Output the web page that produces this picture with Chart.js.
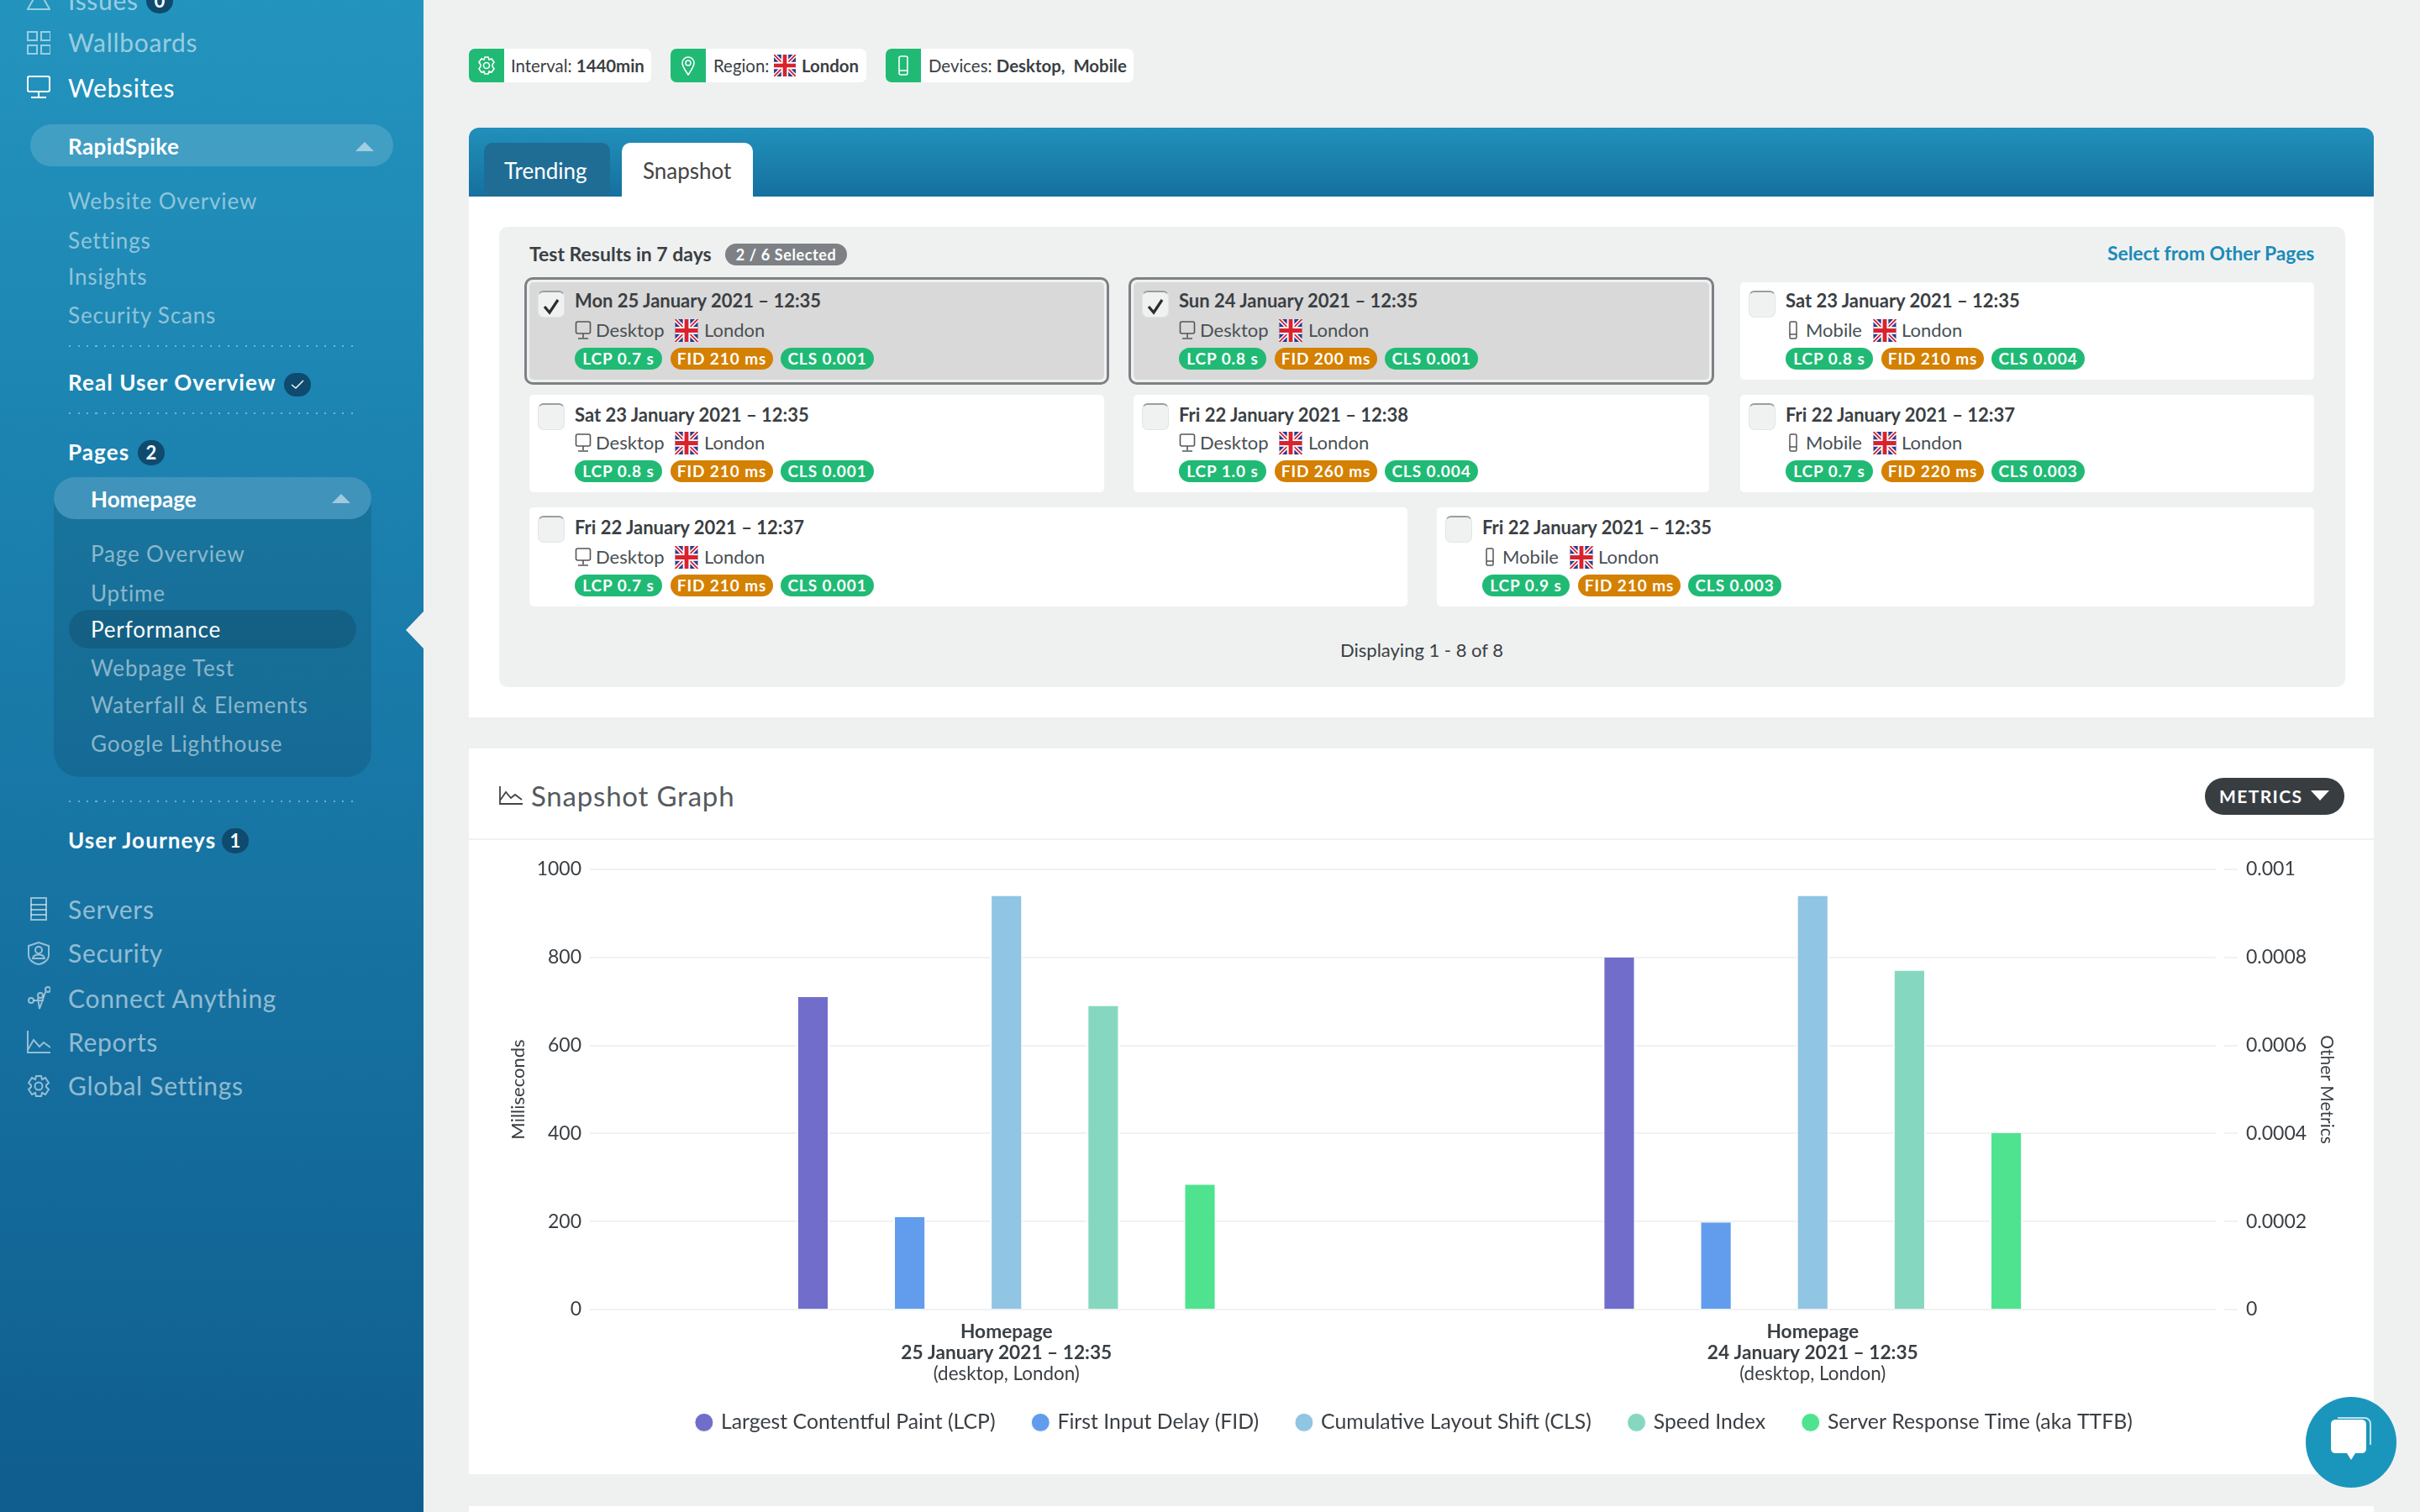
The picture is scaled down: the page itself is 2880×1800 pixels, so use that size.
<!DOCTYPE html>
<html>
<head>
<meta charset="utf-8">
<title>Snapshot Graph</title>
<script src="https://cdn.jsdelivr.net/npm/chart.js@4"></script>
<style>
html, body { margin: 0; padding: 0; width: 2880px; height: 1800px; overflow: hidden; background: #eff1f1; font-family: Lato, "Noto Sans", sans-serif; color: #3a3f44; }
.abs, .t { position: absolute; white-space: nowrap; }
.t { transform: translateY(-50%); line-height: 1; }
#side { position: absolute; left: 0; top: 0; width: 504px; height: 1800px; background: linear-gradient(180deg, #2394be 0%, #1a7dab 40%, #136a9a 78%, #0f5d8e 100%); overflow: hidden; }
.nav { color: rgba(255,255,255,.55); font-size: 30px; letter-spacing: .7px; }
.nav.on { color: #fff; }
.sub { color: rgba(255,255,255,.5); font-size: 26px; letter-spacing: .85px; }
.hd { color: #fff; font-size: 26px; font-weight: 700; letter-spacing: 1.1px; }
.pill { position: absolute; background: rgba(255,255,255,.15); border-radius: 25px; }
.badge { position: absolute; width: 32px; height: 30px; border-radius: 15px; background: #0e4b6e; color: #fff; font-size: 22px; font-weight: 700; text-align: center; line-height: 30px; }
.dots { position: absolute; left: 82px; width: 340px; height: 2px; background: repeating-linear-gradient(90deg, rgba(255,255,255,.4) 0 2px, transparent 2px 10.5px); }
.up { position: absolute; width: 0; height: 0; border-left: 11px solid transparent; border-right: 11px solid transparent; border-bottom: 11px solid rgba(255,255,255,.5); }
.nic { position: absolute; left: 32px; width: 28px; height: 28px; fill: none; stroke-width: 2; }
.tag { position: absolute; top: 58px; height: 40px; background: #fff; border-radius: 7px; overflow: hidden; font-size: 20.4px; }
.tag i { position: absolute; left: 0; top: 0; width: 42px; height: 40px; background: #20ba75; }
.tag svg.ic { position: absolute; left: 9px; top: 8px; width: 24px; height: 24px; fill: none; stroke: #fff; stroke-width: 1.6; }
.card { position: absolute; background: #fff; border-radius: 5px; }
.card.sel { background: #d9d9d9; }
.card.sel:before { content: ""; position: absolute; left: -6px; top: -6px; right: -6px; bottom: -6px; border: 3px solid #7d8185; border-radius: 10px; box-sizing: border-box; }
.box { position: absolute; left: 10px; top: 10px; width: 32px; height: 32px; box-sizing: border-box; background: #f0f2f1; border: 1px solid #e3e5e5; border-top: 2px solid #9a9da0; border-radius: 7px; }
.lbl { position: absolute; height: 26px; line-height: 26px; border-radius: 13px; color: #fff; font-size: 19px; font-weight: 700; text-align: center; letter-spacing: .9px; }
.ttl { font-size: 22px; font-weight: 700; color: #3a3f44; }
.det { font-size: 22px; color: #4a4f54; }
</style>
</head>
<body>

<svg width="0" height="0" style="position:absolute">
  <symbol id="uk" viewBox="0 0 28 28">
    <rect width="28" height="28" fill="#2a3a8f"/>
    <path d="M0 0L28 28M28 0L0 28" stroke="#fff" stroke-width="5"/>
    <path d="M0 0L28 28M28 0L0 28" stroke="#d8232f" stroke-width="2"/>
    <path d="M14 0V28M0 14H28" stroke="#fff" stroke-width="9"/>
    <path d="M14 0V28M0 14H28" stroke="#d8232f" stroke-width="5"/>
  </symbol>
  <symbol id="desk" viewBox="0 0 20 24">
    <rect x="1.5" y="2" width="17" height="14" rx="2" fill="none" stroke="currentColor" stroke-width="1.6"/>
    <path d="M10 16V21M4 22H16" stroke="currentColor" stroke-width="1.6" fill="none"/>
  </symbol>
  <symbol id="mob" viewBox="0 0 14 24">
    <rect x="3" y="2" width="8" height="20" rx="1.5" fill="none" stroke="currentColor" stroke-width="1.5"/>
    <path d="M3 17H11" stroke="currentColor" stroke-width="1.5"/>
  </symbol>
</svg>

<div id="side">
  <svg class="nic" style="top:-16px" viewBox="0 0 28 28" stroke="rgba(255,255,255,.55)"><path d="M14 4L27 27H1Z"/></svg>
  <span class="t nav" style="left:81px;top:0">Issues</span>
  <div class="badge" style="left:174px;top:-14px">0</div>
  <svg class="nic" style="top:37px" viewBox="0 0 28 28" stroke="rgba(255,255,255,.55)"><rect x="1" y="1" width="11" height="10"/><rect x="17" y="1" width="11" height="10"/><rect x="1" y="17" width="11" height="10"/><rect x="17" y="17" width="11" height="10"/></svg>
  <span class="t nav" style="left:81px;top:50px">Wallboards</span>
  <svg class="nic" style="top:90px" viewBox="0 0 28 28" stroke="#fff"><rect x="1" y="1" width="26" height="18" rx="2"/><path d="M14 19V26M5 26H23"/></svg>
  <span class="t nav on" style="left:81px;top:104px">Websites</span>

  <div class="pill" style="left:36px;top:148px;width:432px;height:50px"></div>
  <span class="t hd" style="left:81px;top:174px;letter-spacing:.4px">RapidSpike</span>
  <div class="up" style="left:423px;top:169px"></div>

  <span class="t sub" style="left:81px;top:239px">Website Overview</span>
  <span class="t sub" style="left:81px;top:286px">Settings</span>
  <span class="t sub" style="left:81px;top:329px">Insights</span>
  <span class="t sub" style="left:81px;top:375px">Security Scans</span>
  <div class="dots" style="top:411px"></div>
  <span class="t hd" style="left:81px;top:455px">Real User Overview</span>
  <div class="badge" style="left:338px;top:444px;height:28px"><svg width="16" height="12" viewBox="0 0 16 12" style="margin-top:8px;display:block;margin-left:8px"><path d="M1 6L6 10L15 1" fill="none" stroke="#fff" stroke-width="1.4"/></svg></div>
  <div class="dots" style="top:491px"></div>
  <span class="t hd" style="left:81px;top:538px">Pages</span>
  <div class="badge" style="left:164px;top:524px">2</div>

  <div class="abs" style="left:64px;top:590px;width:378px;height:335px;background:rgba(0,0,0,.1);border-radius:0 0 30px 30px"></div>
  <div class="pill" style="left:64px;top:568px;width:378px;height:50px;background:#4093ba"></div>
  <span class="t hd" style="left:108px;top:594px;letter-spacing:0">Homepage</span>
  <div class="up" style="left:395px;top:588px"></div>
  <span class="t sub" style="left:108px;top:659px">Page Overview</span>
  <span class="t sub" style="left:108px;top:706px">Uptime</span>
  <div class="abs" style="left:82px;top:726px;width:342px;height:46px;border-radius:23px;background:rgba(0,0,0,.13)"></div>
  <span class="t sub" style="left:108px;top:749px;color:#fff">Performance</span>
  <span class="t sub" style="left:108px;top:795px">Webpage Test</span>
  <span class="t sub" style="left:108px;top:839px">Waterfall &amp; Elements</span>
  <span class="t sub" style="left:108px;top:885px">Google Lighthouse</span>
  <div class="dots" style="top:953px"></div>
  <span class="t hd" style="left:81px;top:1000px">User Journeys</span>
  <div class="badge" style="left:264px;top:986px">1</div>

  <svg class="nic" style="top:1068px" viewBox="0 0 28 28" stroke="rgba(255,255,255,.55)"><rect x="5" y="1" width="18" height="26"/><path d="M5 9H23M5 15H23M5 21H23"/></svg>
  <span class="t nav" style="left:81px;top:1082px">Servers</span>
  <svg class="nic" style="top:1121px" viewBox="0 0 28 28" stroke="rgba(255,255,255,.55)"><path d="M2 5L14 1L26 5V16C26 22 20 26 14 27C8 26 2 22 2 16Z"/><circle cx="14" cy="10" r="4"/><path d="M7 20C8 14 20 14 21 20Z"/></svg>
  <span class="t nav" style="left:81px;top:1134px">Security</span>
  <svg class="nic" style="top:1174px" viewBox="0 0 28 28" stroke="rgba(255,255,255,.55)"><circle cx="5" cy="17" r="3"/><circle cx="16" cy="11" r="3"/><circle cx="25" cy="4" r="3"/><path d="M8 17L20 17M22 7L15 27L13 14"/></svg>
  <span class="t nav" style="left:81px;top:1188px">Connect Anything</span>
  <svg class="nic" style="top:1226px" viewBox="0 0 28 28" stroke="rgba(255,255,255,.55)"><path d="M1 1V27H28M1 24L8 12L15 20L20 15L28 21"/></svg>
  <span class="t nav" style="left:81px;top:1240px">Reports</span>
  <svg class="nic" style="top:1279px" viewBox="0 0 28 28" stroke="rgba(255,255,255,.55)"><circle cx="14" cy="14" r="4.5"/><path d="M11 2H17L18 6L22 4L26 10L23 13V15L26 18L22 24L18 22L17 26H11L10 22L6 24L2 18L5 15V13L2 10L6 4L10 6Z"/></svg>
  <span class="t nav" style="left:81px;top:1292px">Global Settings</span>
</div>
<div class="abs" style="left:483px;top:728px;width:0;height:0;border-top:22px solid transparent;border-bottom:22px solid transparent;border-right:21px solid #eff1f1"></div>

<div class="tag" style="left:558px;width:217px"><i></i><svg class="ic" viewBox="0 0 24 24"><circle cx="12" cy="12" r="3.5"/><path d="M10 2H14L15 5L18 4L21 8L19 11V13L21 16L18 20L15 19L14 22H10L9 19L6 20L3 16L5 13V11L3 8L6 4L9 5Z"/></svg>
  <span class="t" style="left:50px;top:20px">Interval: <b>1440min</b></span></div>
<div class="tag" style="left:798px;width:233px"><i></i><svg class="ic" viewBox="0 0 24 24"><path d="M12 23C8 17 5 13 5 9A7 7 0 0 1 19 9C19 13 16 17 12 23Z"/><circle cx="12" cy="9" r="3"/></svg>
  <span class="t" style="left:51px;top:20px">Region:</span><svg class="abs" style="left:123px;top:7px" width="26" height="26"><use href="#uk"/></svg><span class="t" style="left:156px;top:20px"><b>London</b></span></div>
<div class="tag" style="left:1054px;width:295px"><i></i><svg class="ic" viewBox="0 0 24 24"><rect x="7" y="1" width="10" height="22" rx="2"/><path d="M7 18H17"/></svg>
  <span class="t" style="left:51px;top:20px">Devices: <b>Desktop,&nbsp;&nbsp;Mobile</b></span></div>

<div class="abs" style="left:558px;top:152px;width:2267px;height:702px;background:#fff;border-radius:12px 12px 0 0">
  <div class="abs" style="left:0;top:0;width:2267px;height:82px;background:linear-gradient(180deg,#2190ba,#15709f);border-radius:12px 12px 0 0"></div>
  <div class="abs" style="left:18px;top:18px;width:150px;height:64px;background:#1f6d95;border-radius:10px 10px 0 0"></div>
  <span class="t" style="left:42px;top:51px;font-size:26px;color:#fff">Trending</span>
  <div class="abs" style="left:182px;top:18px;width:156px;height:64px;background:#fff;border-radius:10px 10px 0 0"></div>
  <span class="t" style="left:207px;top:51px;font-size:26px;color:#444">Snapshot</span>
</div>
<div class="abs" style="left:594px;top:270px;width:2197px;height:548px;background:#eff1f1;border-radius:10px"></div>
<span class="t" style="left:630px;top:302px;font-size:23px;font-weight:700">Test Results in 7 days</span>
<div class="abs" style="left:863px;top:290px;width:145px;height:26px;line-height:26px;border-radius:13px;background:#7d8185;color:#fff;font-size:18px;font-weight:700;text-align:center;letter-spacing:.6px">2 / 6 Selected</div>
<span class="t" style="left:2508px;top:301px;font-size:22.8px;font-weight:700;color:#1a8bb8">Select from Other Pages</span>
<div id="cards"></div>
<span class="t" style="left:1692px;top:774px;font-size:22px;transform:translate(-50%,-50%)">Displaying 1 - 8 of 8</span>

<div class="abs" style="left:558px;top:891px;width:2267px;height:864px;background:#fff"></div>
<div class="abs" style="left:558px;top:998px;width:2267px;height:2px;background:#eff1f1"></div>
<svg class="abs" style="left:594px;top:936px" width="28" height="22" viewBox="0 0 28 22" fill="none" stroke="#444" stroke-width="1.8"><path d="M1 0V21H28M1 17L8 7L14 14L19 10L27 16"/></svg>
<span class="t" style="left:632px;top:947px;font-size:33px;color:#555a5f;letter-spacing:.8px">Snapshot Graph</span>
<div class="abs" style="left:2624px;top:926px;width:166px;height:44px;border-radius:22px;background:#383d42"></div>
<span class="t" style="left:2641px;top:947px;font-size:21px;font-weight:700;color:#fff;letter-spacing:1.4px">METRICS</span>
<div class="abs" style="left:2750px;top:941px;width:0;height:0;border-left:11px solid transparent;border-right:11px solid transparent;border-top:12px solid #fff"></div>

<div class="abs" style="left:560px;top:1001px;width:2248px;height:740px">
  <canvas id="snapshotChart" width="2248" height="740"></canvas>
</div>

<div class="abs" style="left:558px;top:1793px;width:2267px;height:7px;background:#fff"></div>
<div class="abs" style="left:2744px;top:1663px;width:108px;height:108px;border-radius:54px;background:#1a96bd"></div>
<svg class="abs" style="left:2768px;top:1686px" width="60" height="60" viewBox="0 0 60 60"><path d="M12 4H42C46 4 48 6 48 10V38C48 42 46 44 42 44H35L30 52L25 44H12C8 44 6 42 6 38V10C6 6 8 4 12 4Z" fill="#fff"/><path d="M14 2H46C50 2 53 5 53 9V34" fill="none" stroke="#bfe3ee" stroke-width="2"/></svg>

<script>
// chart values
const categories = [
    ['Homepage', '25 January 2021 \u2013 12:35'],
    ['Homepage', '24 January 2021 \u2013 12:35']
];
const subLabels = ['(desktop, London)', '(desktop, London)'];
const lcpValues = [710, 800];
const fidValues = [210, 198];
const clsValues = [0.00094, 0.00094];
const speedIndexValues = [690, 770];
const ttfbValues = [284, 401];
const leftTickLabels = ['0', '200', '400', '600', '800', '1000'];
const rightTickLabels = ['0', '0.0002', '0.0004', '0.0006', '0.0008', '0.001'];

// test result cards
const cardDates = ['Mon 25 January 2021 \u2013 12:35', 'Sun 24 January 2021 \u2013 12:35', 'Sat 23 January 2021 \u2013 12:35', 'Sat 23 January 2021 \u2013 12:35', 'Fri 22 January 2021 \u2013 12:38', 'Fri 22 January 2021 \u2013 12:37', 'Fri 22 January 2021 \u2013 12:37', 'Fri 22 January 2021 \u2013 12:35'];
const cardDevices = ['Desktop', 'Desktop', 'Mobile', 'Desktop', 'Desktop', 'Mobile', 'Desktop', 'Mobile'];
const cardLcp = ['0.7', '0.8', '0.8', '0.8', '1.0', '0.7', '0.7', '0.9'];
const cardFid = ['210', '200', '210', '210', '260', '220', '210', '210'];
const cardCls = ['0.001', '0.001', '0.004', '0.001', '0.004', '0.003', '0.001', '0.003'];
const cardSelected = [true, true, false, false, false, false, false, false];
const cardBoxes = [[630, 336, 684, 116], [1349, 336, 685, 116], [2071, 336, 683, 116], [630, 470, 684, 116], [1349, 470, 685, 116], [2071, 470, 683, 116], [630, 604, 1045, 118], [1710, 604, 1044, 118]];

let cardsHtml = '';
cardDates.forEach(function (date, i) {
    const b = cardBoxes[i];
    const mobile = cardDevices[i] === 'Mobile';
    const tall = b[3] > 116 ? 2 : 0;
    const titleTop = i < 3 ? 22 : 24;
    cardsHtml += '<div class="card' + (cardSelected[i] ? ' sel' : '') + '" style="left:' + b[0] + 'px;top:' + b[1] + 'px;width:' + b[2] + 'px;height:' + b[3] + 'px">'
        + '<div class="box">' + (cardSelected[i] ? '<svg width="22" height="22" viewBox="0 0 22 22" style="position:absolute;left:4px;top:6px"><path d="M3 11L9 18L19 3" fill="none" stroke="#2a2e32" stroke-width="3.2"/></svg>' : '') + '</div>'
        + '<span class="t ttl" style="left:54px;top:' + titleTop + 'px">' + date + '</span>'
        + '<svg class="abs" style="left:' + (mobile ? 56 : 54) + 'px;top:' + (45 + tall) + 'px;color:#555" width="' + (mobile ? 14 : 20) + '" height="24"><use href="#' + (mobile ? 'mob' : 'desk') + '"/></svg>'
        + '<span class="t det" style="left:' + (mobile ? 78 : 79) + 'px;top:' + (57 + tall) + 'px">' + cardDevices[i] + '</span>'
        + '<svg class="abs" style="left:' + (mobile ? 158 : 173) + 'px;top:' + (44 + tall) + 'px" width="28" height="27"><use href="#uk"/></svg>'
        + '<span class="t det" style="left:' + (mobile ? 192 : 208) + 'px;top:' + (57 + tall) + 'px">London</span>'
        + '<div class="lbl" style="left:54px;top:' + (78 + tall) + 'px;width:104px;background:#20ba75">LCP ' + cardLcp[i] + ' s</div>'
        + '<div class="lbl" style="left:168px;top:' + (78 + tall) + 'px;width:122px;background:#d48000">FID ' + cardFid[i] + ' ms</div>'
        + '<div class="lbl" style="left:299px;top:' + (78 + tall) + 'px;width:111px;background:#20ba75">CLS ' + cardCls[i] + '</div>'
        + '</div>';
});
document.getElementById('cards').innerHTML = cardsHtml;

const gridColor = '#f0f1f1';
const textColor = '#3a3f44';
const fontName = 'Lato, "Noto Sans", sans-serif';

function barSet(label, data, color, axis) {
    return {
        label: label,
        data: data,
        yAxisID: axis,
        backgroundColor: color,
        borderColor: '#fff',
        borderWidth: { left: 2, right: 2, top: 0, bottom: 0 },
        categoryPercentage: 0.6,
        barPercentage: 0.34
    };
}

// legend has wide gaps between items, which also makes its box tall: pull it back up
const legendShift = {
    id: 'legendShift',
    afterLayout: function (chart) { chart.legend.top -= 35; }
};

new Chart(document.getElementById('snapshotChart').getContext('2d'), {
    type: 'bar',
    plugins: [legendShift],
    data: {
        labels: categories,
        datasets: [
            barSet('Largest Contentful Paint (LCP)', lcpValues, '#716ecb', 'y'),
            barSet('First Input Delay (FID)', fidValues, '#629ded', 'y'),
            barSet('Cumulative Layout Shift (CLS)', clsValues, '#90c5e3', 'y2'),
            barSet('Speed Index', speedIndexValues, '#85d8bf', 'y'),
            barSet('Server Response Time (aka TTFB)', ttfbValues, '#4fe38f', 'y')
        ]
    },
    options: {
        responsive: false,
        animation: false,
        devicePixelRatio: 1,
        layout: { padding: { left: 27, right: 27, top: 34, bottom: 27 } },
        plugins: {
            tooltip: { enabled: false },
            legend: {
                position: 'bottom',
                maxHeight: 44,
                labels: {
                    usePointStyle: true,
                    pointStyle: 'circle',
                    boxHeight: 15.5,
                    boxWidth: 15.5,
                    padding: 46,
                    color: textColor,
                    font: { family: fontName, size: 24.8 }
                }
            }
        },
        scales: {
            x: {
                weight: 0,
                grid: { display: false },
                border: { display: false },
                afterFit: function (s) { s.height = 66; },
                ticks: {
                    autoSkip: false,
                    maxRotation: 0,
                    padding: 6,
                    color: textColor,
                    font: { family: fontName, size: 22.7, weight: 'bold', lineHeight: 1.1 }
                }
            },
            x2: {
                axis: 'x',
                type: 'category',
                position: 'bottom',
                weight: 1,
                labels: subLabels,
                grid: { display: false, drawTicks: false },
                border: { display: false },
                afterFit: function (s) { s.height = 45; },
                ticks: {
                    autoSkip: false,
                    maxRotation: 0,
                    padding: 0,
                    color: textColor,
                    font: { family: fontName, size: 22.4, lineHeight: 1 }
                }
            },
            y: {
                position: 'left',
                min: 0,
                max: 1000,
                afterFit: function (s) { s.width = 131; },
                grid: { color: gridColor, lineWidth: 2, tickLength: 16 },
                border: { display: false },
                ticks: {
                    stepSize: 200,
                    padding: 10,
                    color: textColor,
                    font: { family: fontName, size: 23 },
                    callback: function (value, index) { return leftTickLabels[index]; }
                },
                title: { display: true, text: 'Milliseconds', color: textColor, padding: { top: 17, bottom: 0 }, font: { family: fontName, size: 22 } }
            },
            y2: {
                position: 'right',
                min: 0,
                max: 0.001,
                afterFit: function (s) { s.width = 144; },
                grid: { drawOnChartArea: false, color: gridColor, lineWidth: 2, tickLength: 26, tickBorderDash: [0, 10, 16, 60] },
                border: { display: false },
                ticks: {
                    stepSize: 0.0002,
                    padding: 10,
                    color: textColor,
                    font: { family: fontName, size: 23 },
                    callback: function (value, index) { return rightTickLabels[index]; }
                },
                title: { display: true, text: 'Other Metrics', color: textColor, padding: 0, font: { family: fontName, size: 21 } }
            }
        }
    }
});
</script>
</body>
</html>
